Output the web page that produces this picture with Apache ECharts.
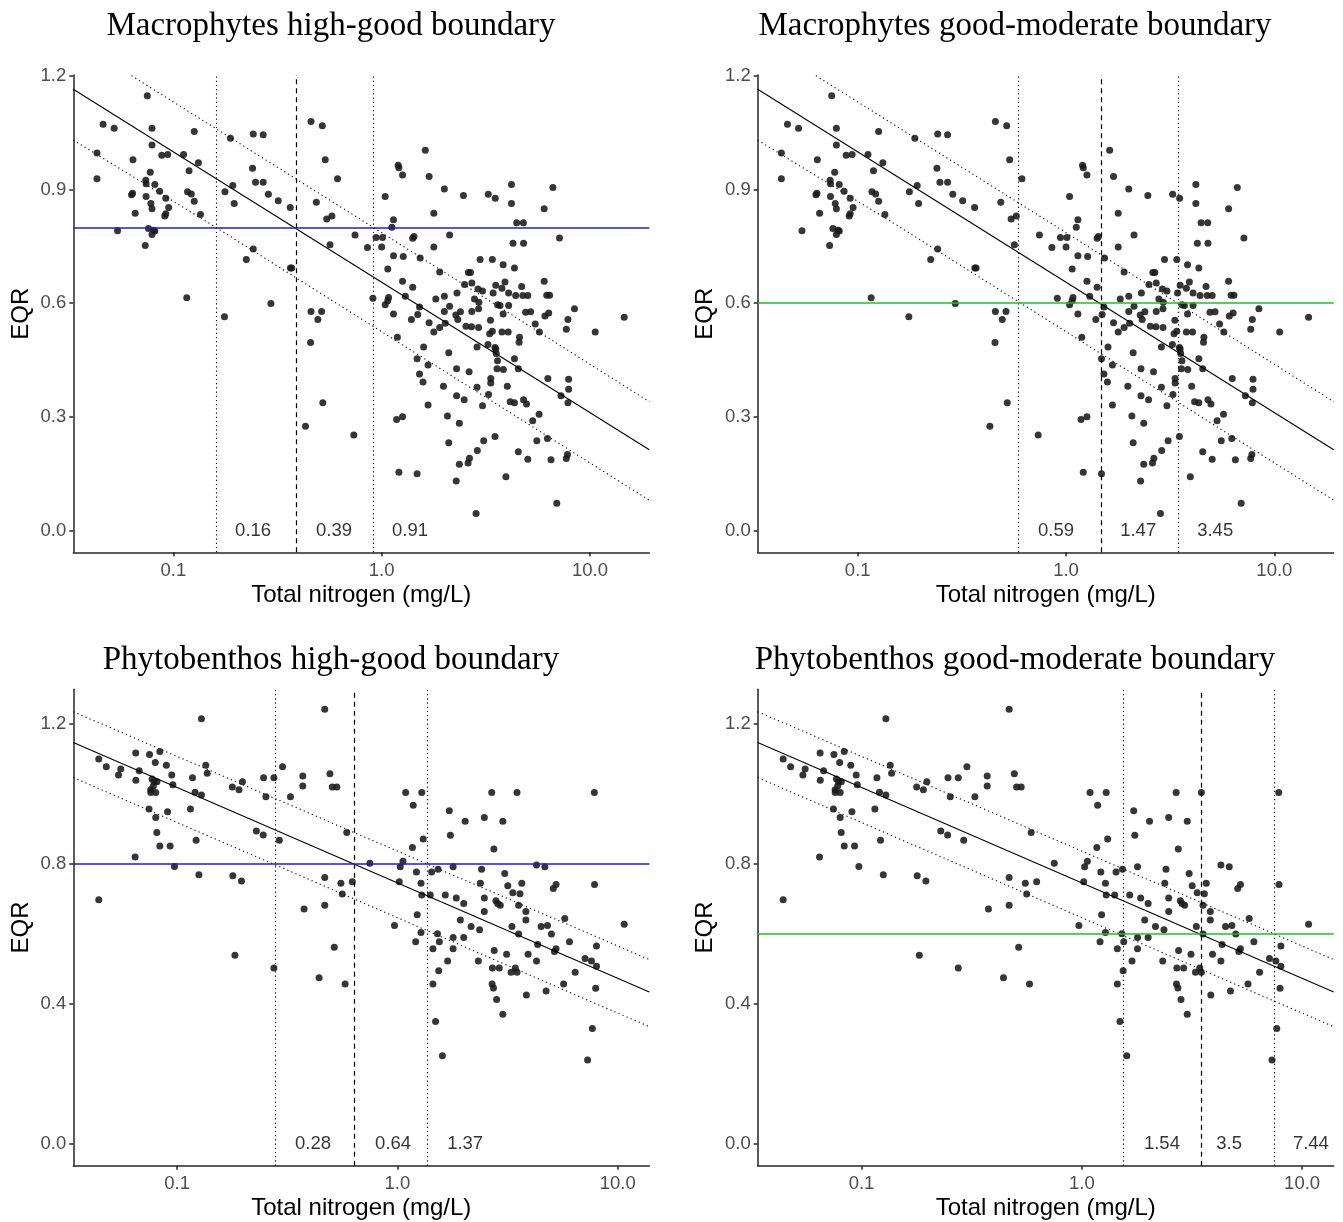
<!DOCTYPE html>
<html>
<head>
<meta charset="utf-8">
<script src="https://cdn.jsdelivr.net/npm/echarts@6/dist/echarts.min.js"></script>
<style>
html,body{margin:0;padding:0;background:#fff;}
#c{width:1343px;height:1222px;}
</style>
</head>
<body>
<div id="c"></div>
<script>
// ---------- DATA ----------
const titles = [
  'Macrophytes high-good boundary',
  'Macrophytes good-moderate boundary',
  'Phytobenthos high-good boundary',
  'Phytobenthos good-moderate boundary'
];
const xAxisTitle = 'Total nitrogen (mg/L)';
const yAxisTitle = 'EQR';
const xTicks = [0.1, 1, 10];
const xTickLabels = ['0.1', '1.0', '10.0'];
const yTicksMacro = [0, 0.3, 0.6, 0.9, 1.2];
const yTicksPhyto = [0, 0.4, 0.8, 1.2];

// Total nitrogen (mg/L), EQR  - macrophytes
const macroPoints = [
[0.075,1.147],[0.046,1.072],[0.052,1.061],[0.079,1.061],[0.126,1.053],[0.188,1.035],[0.242,1.046],[0.270,1.044],
[0.079,1.017],[0.043,0.996],[0.088,0.990],[0.094,0.992],[0.112,0.992],[0.064,0.978],[0.132,0.970],[0.458,1.079],
[0.519,1.068],[0.536,0.978],[0.240,0.956],[0.119,0.949],[0.0775,0.945],[0.043,0.928],[0.614,0.928],[0.0737,0.924],
[0.0815,0.913],[0.074,0.915],[0.193,0.910],[0.248,0.919],[0.270,0.919],[0.0637,0.890],[0.063,0.886],[0.086,0.895],
[0.117,0.894],[0.122,0.888],[0.177,0.894],[0.286,0.887],[0.074,0.881],[0.092,0.877],[0.126,0.869],[0.319,0.870],
[0.196,0.863],[0.078,0.863],[0.079,0.849],[0.095,0.852],[0.091,0.830],[0.092,0.836],[0.0656,0.837],[0.135,0.834],
[0.364,0.852],[0.486,0.866],[0.545,0.822],[0.577,0.830],[0.054,0.791],[0.076,0.797],[0.0805,0.792],[0.0815,0.790],
[0.079,0.781],[0.0733,0.752],[0.242,0.743],[0.224,0.715],[0.365,0.693],[0.370,0.693],[0.116,0.614],[0.294,0.599],
[0.176,0.564],[0.458,0.578],[0.515,0.578],[0.494,0.557],[0.456,0.496],[0.522,0.337],[0.431,0.275],[0.735,0.252],
[0.565,0.754],[0.745,0.780],[0.855,0.747],[0.94,0.773],[1.01,0.773],[1.0,0.748],[1.04,0.881],[1.14,0.820],
[1.12,0.800],[1.20,0.964],[1.21,0.957],[1.26,0.938],[1.62,1.003],[1.69,0.934],[2.0,0.901],[1.78,0.837],
[1.43,0.776],[1.41,0.771],[2.12,0.780],[1.78,0.748],[2.47,0.884],[3.25,0.887],[3.51,0.877],[4.2,0.913],
[4.2,0.863],[6.64,0.905],[6.03,0.849],[4.45,0.812],[4.79,0.812],[7.14,0.772],[4.27,0.758],[4.8,0.758],
[2.97,0.715],[3.4,0.715],[3.83,0.701],[4.34,0.693],[1.14,0.725],[1.27,0.723],[1.07,0.690],[1.53,0.719],
[1.9,0.682],[1.26,0.658],[1.41,0.642],[1.30,0.618],[0.908,0.613],[1.08,0.615],[1.07,0.606],[1.04,0.596],
[1.14,0.571],[1.52,0.590],[1.49,0.570],[1.39,0.557],[1.69,0.548],[1.82,0.611],[2.0,0.618],[2.12,0.592],
[2.0,0.578],[1.9,0.536],[1.78,0.524],[2.02,0.547],[2.27,0.569],[2.32,0.557],[2.39,0.577],[2.3,0.627],
[2.5,0.649],[2.61,0.681],[2.67,0.681],[2.71,0.653],[2.79,0.611],[2.9,0.637],[2.93,0.602],[3.05,0.632],
[2.92,0.585],[2.71,0.578],[2.7,0.538],[2.92,0.536],[3.33,0.555],[3.3,0.519],[3.4,0.526],[3.53,0.647],
[3.43,0.627],[3.6,0.596],[3.78,0.639],[3.91,0.656],[4.07,0.627],[4.4,0.620],[4.7,0.644],[4.76,0.620],
[5.03,0.620],[3.7,0.594],[3.83,0.571],[4.07,0.594],[4.05,0.524],[3.78,0.524],[4.59,0.510],[4.57,0.497],
[4.91,0.576],[5.19,0.577],[5.46,0.545],[5.72,0.524],[6.08,0.566],[6.34,0.574],[6.03,0.658],[6.2,0.621],
[6.4,0.621],[8.43,0.585],[7.84,0.557],[7.7,0.531],[10.6,0.524],[14.6,0.563],[3.24,0.491],[3.5,0.483],
[3.53,0.479],[3.55,0.467],[3.6,0.448],[3.84,0.425],[3.58,0.427],[4.34,0.453],[4.53,0.427],[2.87,0.484],
[2.54,0.539],[2.1,0.469],[1.59,0.484],[1.48,0.453],[1.67,0.437],[1.52,0.413],[1.58,0.392],[1.19,0.510],
[2.29,0.427],[2.63,0.419],[3.34,0.401],[3.34,0.389],[1.98,0.381],[4.01,0.381],[2.87,0.378],[3.26,0.359],
[6.28,0.401],[7.9,0.399],[7.9,0.373],[7.26,0.356],[7.84,0.337],[2.29,0.356],[2.49,0.345],[3.05,0.329],
[4.14,0.340],[4.34,0.337],[4.8,0.345],[4.96,0.334],[1.67,0.331],[5.7,0.307],[5.31,0.290],[2.07,0.302],
[1.18,0.293],[1.26,0.300],[2.36,0.283],[2.1,0.232],[3.09,0.237],[3.5,0.248],[5.56,0.237],[6.25,0.243],
[2.88,0.211],[2.64,0.191],[2.36,0.175],[2.6,0.178],[4.53,0.208],[5.03,0.188],[6.5,0.187],[7.7,0.190],
[7.8,0.201],[1.21,0.154],[1.48,0.150],[2.28,0.131],[3.95,0.142],[6.93,0.072],[2.84,0.045]
];

// Total nitrogen (mg/L), EQR  - phytobenthos
const phytoPoints = [
[0.0441,1.099],[0.0477,1.077],[0.0542,1.053],[0.0555,1.070],[0.0649,1.116],[0.065,1.038],[0.0673,1.065],[0.075,1.112],
[0.0796,1.089],[0.0835,1.120],[0.0894,1.081],[0.0946,1.053],[0.0957,1.025],[0.077,1.042],[0.0787,1.034],[0.081,1.034],
[0.078,1.022],[0.0759,1.011],[0.080,1.003],[0.076,1.003],[0.0746,0.956],[0.080,0.932],[0.0905,0.948],[0.0809,0.889],
[0.0835,0.850],[0.093,0.850],[0.0645,0.819],[0.0973,0.792],[0.0441,0.697],[0.129,1.214],[0.1175,1.045],[0.135,1.081],
[0.137,1.058],[0.1207,1.004],[0.129,0.996],[0.115,0.956],[0.122,0.867],[0.1256,0.768],[0.178,1.019],[0.191,1.011],
[0.198,1.034],[0.179,0.765],[0.196,0.750],[0.183,0.538],[0.247,1.045],[0.275,1.045],[0.301,1.077],[0.253,0.991],
[0.229,0.893],[0.246,0.882],[0.291,0.867],[0.327,0.991],[0.372,1.050],[0.372,1.022],[0.468,1.241],[0.494,1.057],
[0.506,1.019],[0.531,1.019],[0.589,0.889],[0.275,0.502],[0.377,0.670],[0.468,0.760],[0.468,0.681],[0.517,0.561],
[0.441,0.474],[0.579,0.456],[0.554,0.744],[0.562,0.713],[0.624,0.748],[0.750,0.801],[1.03,0.791],[1.06,0.807],
[1.02,0.748],[1.09,1.003],[1.29,1.003],[1.18,0.967],[1.31,0.870],[1.17,0.846],[1.22,0.776],[1.28,0.744],
[1.29,0.710],[1.23,0.654],[0.97,0.623],[1.28,0.603],[1.21,0.577],[1.41,0.710],[1.43,0.776],[1.53,0.784],
[1.72,0.951],[1.74,0.881],[1.79,0.791],[2.03,0.921],[2.48,0.932],[2.68,1.003],[3.49,1.003],[3.01,0.921],
[2.74,0.842],[7.83,1.003],[4.28,0.796],[4.67,0.791],[3.07,0.772],[2.41,0.784],[1.65,0.710],[1.85,0.702],
[2.0,0.686],[1.93,0.639],[2.16,0.620],[2.36,0.611],[2.38,0.744],[2.48,0.702],[2.48,0.663],[2.8,0.694],
[2.85,0.686],[2.93,0.681],[3.17,0.737],[3.34,0.717],[3.67,0.744],[3.6,0.714],[3.55,0.681],[3.83,0.663],
[3.83,0.639],[3.31,0.620],[3.55,0.599],[4.49,0.620],[4.8,0.623],[5.0,0.599],[5.1,0.729],[5.25,0.740],
[5.75,0.643],[6.04,0.577],[7.85,0.740],[10.7,0.627],[4.33,0.569],[5.16,0.549],[5.25,0.557],[3.92,0.541],
[2.75,0.552],[3.13,0.541],[2.33,0.522],[1.69,0.522],[1.79,0.557],[2.0,0.589],[1.79,0.589],[1.55,0.577],
[1.45,0.557],[1.52,0.600],[1.54,0.494],[1.45,0.456],[1.49,0.349],[1.60,0.251],[2.7,0.502],[2.9,0.502],
[2.69,0.456],[2.73,0.445],[2.82,0.412],[3.01,0.370],[3.28,0.490],[3.43,0.502],[3.49,0.490],[3.85,0.425],
[4.28,0.522],[4.73,0.436],[5.68,0.456],[6.41,0.490],[7.11,0.529],[7.6,0.522],[8.01,0.507],[8.01,0.565],
[7.94,0.444],[7.67,0.329],[7.3,0.239]
];

// regression fit and prediction interval lines
const macroFit   = [[0.0331,1.164],[19.27,0.213]];
const macroUpper = [[0.063,1.2],[0.91,0.8],[19.27,0.34]];
const macroLower = [[0.0331,1.03],[0.16,0.8],[19.27,0.08]];
const phytoFit   = [[0.0338,1.146],[13.91,0.433]];
const phytoUpper = [[0.0338,1.234],[13.91,0.526]];
const phytoLower = [[0.0338,1.046],[13.91,0.334]];

// class boundary (EQR) and derived TN boundaries
const boundaryEQR = [0.8, 0.6, 0.8, 0.6];
const tnBounds = [[0.16,0.39,0.91],[0.59,1.47,3.45],[0.28,0.64,1.37],[1.54,3.5,7.44]];
const tnBoundLabels = [['0.16','0.39','0.91'],['0.59','1.47','3.45'],['0.28','0.64','1.37'],['1.54','3.5','7.44']];
const tnLabelX = [[0.2415,0.591,1.369],[0.895,2.22,5.2],[0.414,0.956,2.03],[2.31,4.66,10.96]];
const boundaryColor = ['#1c1cd4','#18c418','#1c1cd4','#18c418'];

// ---------- LAYOUT ----------
const grids = [
  {left:73.3, top:75, width:576, height:477.3},
  {left:757.7, top:75, width:576, height:477.3},
  {left:73.3, top:689.3, width:576, height:476.4},
  {left:757.7, top:689.3, width:576, height:476.4}
];
const xRange = [[0.0331,19.27],[0.0331,19.27],[0.0338,13.91],[0.0338,13.91]];
const yRange = [[-0.0573,1.2018],[-0.0573,1.2018],[-0.063,1.298],[-0.063,1.298]];
const yTicks = [yTicksMacro, yTicksMacro, yTicksPhyto, yTicksPhyto];
const titlePos = [[331,26],[1015,26],[331,660],[1015,660]];
const pointSets = [macroPoints, macroPoints, phytoPoints, phytoPoints];
const fits = [macroFit, macroFit, phytoFit, phytoFit];
const uppers = [macroUpper, macroUpper, phytoUpper, phytoUpper];
const lowers = [macroLower, macroLower, phytoLower, phytoLower];

const SANS = 'Liberation Sans, Arial, sans-serif';
const SERIF = 'Liberation Serif, Times New Roman, serif';
const axisLineStyle = {color:'#262626', width:1.5};

const xAxes = [], yAxes = [], series = [], graphics = [];
for (let i = 0; i < 4; i++) {
  xAxes.push({
    type:'log', logBase:10, gridIndex:i, min:xRange[i][0], max:xRange[i][1],
    name:xAxisTitle, nameLocation:'middle', nameGap:31,
    nameTextStyle:{fontFamily:SANS, fontSize:24, color:'#000'},
    axisLine:{show:true, onZero:false, lineStyle:axisLineStyle},
    axisTick:{show:true, length:4, customValues:xTicks, lineStyle:axisLineStyle},
    axisLabel:{customValues:xTicks, margin:9, fontFamily:SANS, fontSize:18.5, color:'#4d4d4d',
      formatter:v => { const k = xTicks.findIndex(t => Math.abs(Math.log10(t) - Math.log10(v)) < 1e-6); return k >= 0 ? xTickLabels[k] : ''; }},
    splitLine:{show:false}, minorTick:{show:false}
  });
  yAxes.push({
    type:'value', gridIndex:i, min:yRange[i][0], max:yRange[i][1],
    name:yAxisTitle, nameLocation:'middle', nameGap:40,
    nameTextStyle:{fontFamily:SANS, fontSize:24, color:'#000'},
    axisLine:{show:true, onZero:false, lineStyle:axisLineStyle},
    axisTick:{show:true, length:4, customValues:yTicks[i], lineStyle:axisLineStyle},
    axisLabel:{customValues:yTicks[i], margin:7, fontFamily:SANS, fontSize:18.5, color:'#4d4d4d',
      formatter:v => v.toFixed(1)},
    splitLine:{show:false}
  });
  graphics.push({
    type:'text', x:titlePos[i][0], y:titlePos[i][1],
    style:{text:titles[i], font:'33px ' + SERIF, fill:'#000', align:'center', verticalAlign:'middle', textAlign:'center', textVerticalAlign:'middle'}
  });

  // points
  series.push({
    type:'scatter', xAxisIndex:i, yAxisIndex:i, data:pointSets[i],
    symbol:'circle', symbolSize:7, itemStyle:{color:'#1a1a1a', opacity:0.88}, z:3
  });
  // regression fit + vertical boundary lines
  const b = tnBounds[i];
  series.push({
    type:'line', xAxisIndex:i, yAxisIndex:i, data:fits[i], symbol:'none',
    lineStyle:{color:'#000', width:1.1, type:'solid'}, z:4,
    markLine:{
      silent:true, symbol:['none','none'], label:{show:false},
      data:[
        {xAxis:b[0], lineStyle:{color:'#000', width:1.1, type:[1.2,3]}},
        {xAxis:b[1], lineStyle:{color:'#000', width:1.2, type:[5,4]}},
        {xAxis:b[2], lineStyle:{color:'#000', width:1.1, type:[1.2,3]}}
      ]
    }
  });
  // prediction intervals
  series.push({
    type:'line', xAxisIndex:i, yAxisIndex:i, data:uppers[i], symbol:'none',
    lineStyle:{color:'#000', width:1.1, type:[1.2,3.2]}, z:4
  });
  series.push({
    type:'line', xAxisIndex:i, yAxisIndex:i, data:lowers[i], symbol:'none',
    lineStyle:{color:'#000', width:1.1, type:[1.2,3.2]}, z:4,
    markLine:{
      silent:true, symbol:['none','none'], label:{show:false},
      data:[{yAxis:boundaryEQR[i], lineStyle:{color:boundaryColor[i], width:1.5, type:'solid'}}]
    }
  });
  // boundary value labels
  series.push({
    type:'scatter', xAxisIndex:i, yAxisIndex:i, symbolSize:0, z:5,
    data:tnLabelX[i].map((x, k) => ({value:[x, 0], name:tnBoundLabels[i][k]})),
    label:{show:true, position:'inside', formatter:p => p.name, fontFamily:SANS, fontSize:18.5, color:'#000'}
  });
}

const chart = echarts.init(document.getElementById('c'), null, {renderer:'canvas'});
chart.setOption({
  backgroundColor:'#fff',
  animation:false,
  grid:grids,
  xAxis:xAxes,
  yAxis:yAxes,
  series:series,
  graphic:graphics
});
</script>
</body>
</html>
